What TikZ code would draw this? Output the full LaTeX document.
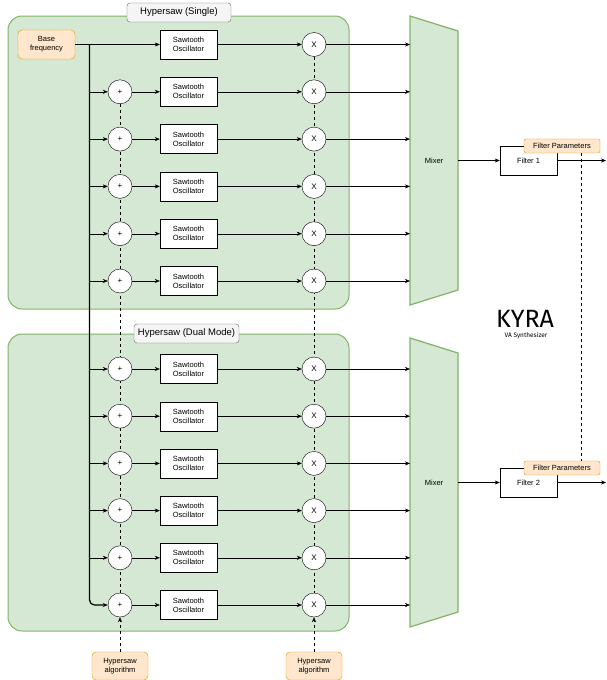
\documentclass[tikz,border=0pt]{standalone}
\usepackage{fontspec}
\setmainfont{Liberation Sans}
\newfontfamily\kyrafont{Fira Sans}
\usetikzlibrary{arrows.meta,positioning}
\definecolor{grpfill}{HTML}{D5E8D4}
\definecolor{grpline}{HTML}{82B366}
\definecolor{orfill}{HTML}{FFE6CC}
\definecolor{orline}{HTML}{D79B00}
\definecolor{tfill}{HTML}{F5F5F5}
\definecolor{tline}{HTML}{666666}
\pgfdeclarelayer{bg}
\pgfdeclarelayer{mid}
\pgfsetlayers{bg,mid,main}
\begin{document}
\begin{tikzpicture}[x=1pt,y=-1pt,line width=.9pt,
	grp/.style={fill=grpfill,draw=grpline,line width=1pt,rounded corners=14pt},
	mixr/.style={fill=grpfill,draw=grpline,line width=1.2pt},
	grptitle/.style={draw=tline,fill=tfill,rounded corners=3pt,minimum height=19pt,inner sep=0,font=\fontsize{9.5}{11}\selectfont},
	osc/.style={draw,fill=white,minimum width=57pt,minimum height=29pt,inner sep=0,align=center,font=\fontsize{7.5}{9}\selectfont},
	ctl/.style={draw=orline,fill=orfill,rounded corners=4pt,minimum width=57pt,minimum height=29pt,inner sep=0,align=center,font=\fontsize{7.5}{9}\selectfont},
	rnd/.style={draw,fill=white,circle,minimum size=24pt,inner sep=0,font=\fontsize{8}{9}\selectfont},
	arr/.style={-{Stealth[length=5pt,width=4pt]}},
	dsh/.style={dash pattern=on 3pt off 3pt}]
	\useasboundingbox(0,0)rectangle(606,680);
	\begin{pgfonlayer}{bg}
		\draw[grp](8,16)rectangle(349,309);
		\draw[grp](8,334)rectangle(349,631);
		\draw[mixr](410,16)--(458,31)--(458,290)--(410,305)--cycle;
		\draw[mixr](410,338)--(458,353)--(458,612)--(410,627)--cycle;
	\end{pgfonlayer}
	\node[grptitle,minimum width=104pt](t1)at(179,12.5){Hypersaw (Single)};
	\node[grptitle,minimum width=105pt](t2)at(186.5,333.5){Hypersaw (Dual Mode)};
	\node[ctl](base)at(46.5,44.5){Base\\frequency};
	\node[font=\fontsize{7.5}{9}\selectfont](mix1)at(434,160.5){Mixer};
	\node[font=\fontsize{7.5}{9}\selectfont](mix2)at(434,482.5){Mixer};
	\coordinate(mixA)at(410,0);
	\coordinate(m1out)at(458,160.5);
	\coordinate(m2out)at(458,482.5);
	\coordinate(br)at(89.5,44.5);
	\foreach \i/\y in {0/44.5,1/91.8,2/139.1,3/186.4,4/233.7,5/281,6/369,7/416.2,8/463.4,9/510.6,10/557.8,11/605}{
		\node[osc](osc\i)at(188.5,\y){Sawtooth\\Oscillator};
		\node[rnd](x\i)at(314,\y){X};
		\draw[arr](osc\i)--(x\i);
		\draw[arr](x\i)--(x\i-|mixA);
	}
	\foreach \i/\y in {1/91.8,2/139.1,3/186.4,4/233.7,5/281,6/369,7/416.2,8/463.4,9/510.6,10/557.8,11/605}{
		\node[rnd](p\i)at(120,\y){+};
		\draw[arr](p\i)--(osc\i);
	}
	\draw[arr](base)--(osc0);
	\foreach \i in {1,...,10}
		\draw[arr](br|-p\i)--(p\i);
	\draw[arr,line width=1.2pt,rounded corners=5pt](br)|-(p11);
	\node[ctl,minimum width=56pt,minimum height=28pt](alg1)at(120,666){Hypersaw\\algorithm};
	\node[ctl,minimum width=56pt,minimum height=28pt](alg2)at(314,666){Hypersaw\\algorithm};
	\begin{pgfonlayer}{mid}
		\draw[dsh](p1)--(p11);
		\draw[dsh](x0)--(x11);
	\end{pgfonlayer}
	\draw[dsh,arr](alg1)--(p11);
	\draw[dsh,arr](alg2)--(x11);
	\node[osc](filt1)at(528.5,160.5){Filter 1};
	\node[osc](filt2)at(528.5,482.5){Filter 2};
	\node[ctl,rounded corners=2pt,minimum width=76pt,minimum height=14pt](fp1)at(562,146){Filter Parameters};
	\node[ctl,rounded corners=2pt,minimum width=76pt,minimum height=14pt](fp2)at(562,468){Filter Parameters};
	\coordinate(out1)at(606,160.5);
	\coordinate(out2)at(606,482.5);
	\draw[arr](m1out)--(filt1);
	\draw[arr](m2out)--(filt2);
	\draw[arr](filt1)--(out1);
	\draw[arr](filt2)--(out2);
	\draw[dsh]([xshift=19pt]fp1.south)--([xshift=19pt]fp2.north);
	\node[font=\kyrafont\fontsize{25}{27}\selectfont,inner sep=0,anchor=base](kyra)at(525,327){KYRA};
	\node[font=\kyrafont\fontsize{6.5}{8}\selectfont,inner sep=0,anchor=base](vas)at(526,337){VA Synthesizer};
\end{tikzpicture}
\end{document}
